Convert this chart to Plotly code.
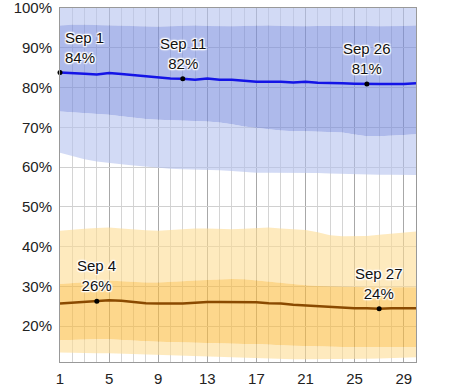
import plotly.graph_objects as go

days = list(range(1, 31))

blue_median = [83.8, 83.7, 83.5, 83.3, 83.7, 83.4, 83.1, 82.8, 82.5, 82.3, 82.2, 82.0, 82.3, 82.0, 82.0,
               81.7, 81.5, 81.5, 81.5, 81.3, 81.5, 81.2, 81.2, 81.1, 81.0, 80.9, 80.9, 80.9, 80.9, 81.1]
blue_p90 = [100.5] * 30
blue_p75 = [95.6, 95.8, 95.8, 95.7, 95.7, 95.5, 95.4, 95.3, 95.3, 95.4, 95.5, 95.6, 95.5, 95.4, 95.4,
            95.5, 95.6, 95.6, 95.5, 95.4, 95.4, 95.5, 95.5, 95.6, 95.6, 95.5, 95.4, 95.4, 95.5, 95.6]
blue_p25 = [74.0, 73.8, 73.6, 73.4, 73.2, 72.8, 72.4, 72.1, 71.9, 71.8, 71.7, 71.6, 71.5, 71.2, 70.8,
            70.2, 69.8, 69.5, 69.2, 69.0, 69.0, 68.9, 68.8, 68.7, 68.2, 67.8, 67.8, 67.9, 68.1, 68.3]
blue_p10 = [63.6, 62.8, 62.0, 61.4, 61.0, 60.7, 60.4, 60.1, 59.8, 59.6, 59.5, 59.4, 59.4, 59.2, 59.0,
            58.8, 58.6, 58.6, 58.6, 58.6, 58.6, 58.5, 58.4, 58.3, 58.3, 58.2, 58.1, 58.1, 58.0, 58.0]

orange_median = [25.7, 25.9, 26.0, 26.3, 26.5, 26.4, 26.1, 25.8, 25.7, 25.7, 25.7, 25.9, 26.1, 26.1, 26.1,
                 26.0, 26.0, 25.8, 25.7, 25.4, 25.2, 25.0, 24.8, 24.6, 24.5, 24.5, 24.4, 24.5, 24.5, 24.5]
orange_p90 = [44.0, 44.3, 44.5, 44.7, 44.8, 44.6, 44.3, 44.1, 44.0, 44.2, 44.4, 44.6, 44.6, 44.5, 44.4,
              44.5, 44.7, 44.8, 44.6, 44.4, 44.2, 43.6, 42.9, 42.6, 42.6, 42.7, 43.0, 43.3, 43.6, 43.8]
orange_p75 = [30.6, 30.8, 31.0, 31.3, 31.5, 31.3, 31.1, 31.0, 31.0, 31.1, 31.3, 31.5, 31.6, 31.8, 31.9,
              31.8, 31.5, 31.2, 30.8, 30.5, 30.3, 30.1, 30.0, 29.9, 29.8, 29.8, 29.8, 29.8, 29.8, 29.8]
orange_p25 = [16.5, 16.6, 16.7, 16.7, 16.7, 16.5, 16.3, 16.2, 16.1, 16.0, 15.9, 15.8, 15.8, 15.7, 15.6,
              15.5, 15.5, 15.3, 15.2, 15.1, 15.0, 14.9, 14.9, 14.8, 14.8, 14.8, 14.8, 14.8, 14.8, 14.8]
orange_p10 = [13.4, 13.3, 13.3, 13.2, 13.2, 13.1, 13.0, 12.9, 12.75, 12.6, 12.5, 12.4, 12.3, 12.2, 12.1,
              12.0, 11.9, 11.8, 11.8, 11.7, 11.7, 11.7, 11.7, 11.7, 11.7, 11.8, 11.9, 12.0, 12.1, 12.2]

blue_labels = [1, 11, 26]
orange_labels = [4, 27]
month = "Sep"

LIGHT_BLUE = "rgba(180,193,238,0.6)"
DARK_BLUE = "rgba(120,140,222,0.6)"
LIGHT_OR = "rgba(253,220,147,0.6)"
DARK_OR = "rgba(252,188,63,0.6)"

fig = go.Figure()


def band(top, upper, lower, bottom, light, dark):
    fig.add_trace(go.Scatter(x=days, y=top, mode="lines", line=dict(width=0), hoverinfo="skip"))
    fig.add_trace(go.Scatter(x=days, y=upper, mode="lines", line=dict(width=0), fill="tonexty",
                             fillcolor=light, hoverinfo="skip"))
    fig.add_trace(go.Scatter(x=days, y=lower, mode="lines", line=dict(width=0), fill="tonexty",
                             fillcolor=dark, hoverinfo="skip"))
    fig.add_trace(go.Scatter(x=days, y=bottom, mode="lines", line=dict(width=0), fill="tonexty",
                             fillcolor=light, hoverinfo="skip"))


band(blue_p90, blue_p75, blue_p25, blue_p10, LIGHT_BLUE, DARK_BLUE)
band(orange_p90, orange_p75, orange_p25, orange_p10, LIGHT_OR, DARK_OR)

fig.add_trace(go.Scatter(x=days, y=blue_median, mode="lines", line=dict(color="#1414e6", width=2.5)))
fig.add_trace(go.Scatter(x=days, y=orange_median, mode="lines", line=dict(color="#8a4a00", width=2.5)))

pts_x = [d for d in blue_labels] + [d for d in orange_labels]
pts_y = [blue_median[d - 1] for d in blue_labels] + [orange_median[d - 1] for d in orange_labels]
fig.add_trace(go.Scatter(x=pts_x, y=pts_y, mode="markers", marker=dict(color="black", size=5),
                         cliponaxis=False))

halo = ("white 1px 1px 1px, white -1px -1px 1px, white 1px -1px 1px, white -1px 1px 1px, "
        "white 0px 1px 2px, white 0px -1px 2px")
for x, y in zip(pts_x, pts_y):
    edge = x == 1
    fig.add_annotation(x=x, y=y, text=f"{month} {x}<br>{round(y)}%", showarrow=False,
                       xanchor="left" if edge else "center", yanchor="bottom",
                       xshift=3 if edge else 0, yshift=5, align="left" if edge else "center",
                       font=dict(family="Liberation Sans, Arial", size=15, color="#111", shadow=halo))

fig.update_layout(
    width=474, height=389,
    margin=dict(l=60, r=58, t=8, b=27, autoexpand=False),
    paper_bgcolor="white", plot_bgcolor="white",
    showlegend=False,
    font=dict(family="Liberation Sans, Arial", size=15, color="#222"),
)
fig.update_xaxes(range=[1, 30], tick0=1, dtick=4, showgrid=True, gridcolor="#a8a8a8", gridwidth=1,
                 minor=dict(dtick=1, tick0=1, showgrid=True, gridcolor="#d4d4d4", gridwidth=1),
                 showline=True, linecolor="#999", mirror=True, zeroline=False, ticks="",
                 ticklabelstandoff=3, automargin=False, ticklabeloverflow="allow")
fig.update_yaxes(range=[11, 100.02], tick0=0, dtick=10, ticksuffix="%", showgrid=True, gridcolor="#d0d0d0",
                 showline=True, linecolor="#999", mirror=True, zeroline=False, ticks="",
                 ticklabelstandoff=4, automargin=False, ticklabeloverflow="allow")

fig.write_html("out.html", config={"displayModeBar": False},
               post_script="document.body.style.margin='0';")
